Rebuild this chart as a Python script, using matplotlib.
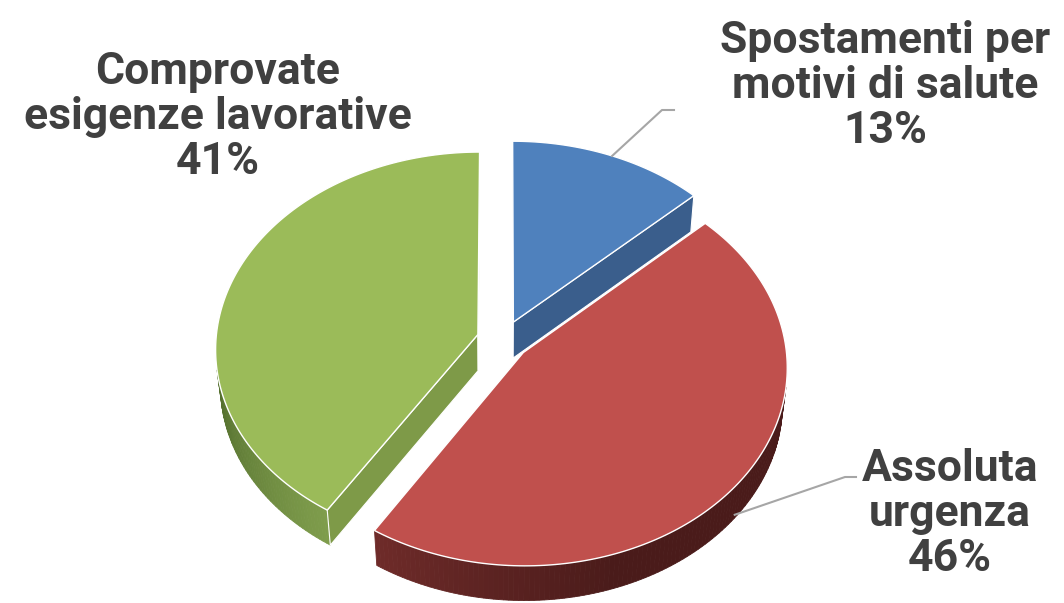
import numpy as np
import matplotlib.pyplot as plt
from matplotlib.patches import Polygon
from matplotlib.colors import to_rgb

# dati
labels = ['Spostamenti per\nmotivi di salute', 'Assoluta\nurgenza', 'Comprovate\nesigenze lavorative']
values = [13, 46, 41]

top_colors = ['#4F81BD', '#C0504D', '#9BBB59']
cut_colors = ['#3A5E8C', '#5C2120', '#7E9A48']
wall_light = ['#3F679A', '#6E2B29', '#7F9D4C']
wall_dark = ['#2E4A70', '#4A1B1A', '#55702F']

# vista prospettica della torta 3D
ELEV = np.radians(48.5)
DIST = 9.3
SCALE = 262 * DIST
CX, CY = 503, 340
THICK = 0.21
EXPLODE = 0.1
SE, CE = np.sin(ELEV), np.cos(ELEV)
CAM = np.array([0.0, -DIST * CE, DIST * SE])


def project(x, y, z):
    depth = DIST + y * CE - z * SE
    return CX + SCALE * x / depth, CY - SCALE * (y * SE + z * CE) / depth


def mix(c1, c2, t):
    a, b = np.array(to_rgb(c1)), np.array(to_rgb(c2))
    return tuple(a + (b - a) * t)


def faces_visible(p, n):
    return np.dot(CAM - p, n) > 0


fig = plt.figure(figsize=(10.64, 6.03), dpi=100)
ax = fig.add_axes([0, 0, 1, 1])
ax.set_xlim(0, 1064)
ax.set_ylim(603, 0)
ax.axis('off')

fracs = np.array(values) / np.sum(values)
bounds = np.concatenate([[0], np.cumsum(fracs) * 360])

slices = []
for i in range(len(values)):
    a0, a1 = bounds[i], bounds[i + 1]
    mid = np.radians((a0 + a1) / 2)
    off = EXPLODE * np.array([np.sin(mid), np.cos(mid)])
    slices.append((i, a0, a1, off))

# disegna prima le fette lontane
slices.sort(key=lambda s: -s[3][1])

for i, a0, a1, off in slices:
    th = np.radians(np.linspace(a0, a1, 160))
    rx = off[0] + np.sin(th)
    ry = off[1] + np.cos(th)

    # parete esterna
    vis = []
    for k in range(len(th) - 1):
        tm = (th[k] + th[k + 1]) / 2
        n = np.array([np.sin(tm), np.cos(tm), 0])
        p = np.array([off[0] + n[0], off[1] + n[1], -THICK / 2])
        if faces_visible(p, n):
            vis.append(k)
    if vis:
        kmin, kmax = min(vis), max(vis)
        for k in vis:
            xs = [rx[k], rx[k + 1], rx[k + 1], rx[k]]
            ys = [ry[k], ry[k + 1], ry[k + 1], ry[k]]
            zs = [0, 0, -THICK, -THICK]
            px, py = project(np.array(xs), np.array(ys), np.array(zs))
            # sfumatura da sinistra (chiara) a destra (scura)
            t = (k - kmin) / max(kmax - kmin, 1)
            if i == 1:
                t = 1 - t
                t = min(t * 2.2, 1)
            col = mix(wall_light[i], wall_dark[i], t)
            ax.add_patch(Polygon(np.c_[px, py], closed=True, facecolor=col,
                                 edgecolor=col, lw=0.6, zorder=2))

    # facce di taglio
    for ang, sgn in ((a0, -1), (a1, 1)):
        t = np.radians(ang)
        nang = t + sgn * np.pi / 2
        n = np.array([np.sin(nang), np.cos(nang), 0])
        p = np.array([off[0] + 0.5 * np.sin(t), off[1] + 0.5 * np.cos(t), -THICK / 2])
        if faces_visible(p, n):
            xs = np.array([off[0], off[0] + np.sin(t), off[0] + np.sin(t), off[0]])
            ys = np.array([off[1], off[1] + np.cos(t), off[1] + np.cos(t), off[1]])
            zs = np.array([0, 0, -THICK, -THICK])
            px, py = project(xs, ys, zs)
            ax.add_patch(Polygon(np.c_[px, py], closed=True, facecolor=cut_colors[i],
                                 edgecolor='white', lw=0.8, zorder=2))

    # faccia superiore
    xs = np.concatenate([[off[0]], rx])
    ys = np.concatenate([[off[1]], ry])
    px, py = project(xs, ys, np.zeros_like(xs))
    ax.add_patch(Polygon(np.c_[px, py], closed=True, facecolor=top_colors[i],
                         edgecolor='white', lw=1.0, zorder=2))

# linee guida
def rim_point(i, ang, z):
    a0, a1 = bounds[i], bounds[i + 1]
    mid = np.radians((a0 + a1) / 2)
    t = np.radians(ang)
    return project(EXPLODE * np.sin(mid) + np.sin(t), EXPLODE * np.cos(mid) + np.cos(t), z)

x0, y0 = rim_point(0, 24, 0)
ax.plot([x0, 662, 674], [y0, 110, 110], color='#A6A6A6', lw=1.5, zorder=3)
x0, y0 = rim_point(1, 129, -THICK * 0.9)
ax.plot([x0, 845, 856], [y0, 477, 477], color='#A6A6A6', lw=1.5, zorder=3)

font = dict(family='Roboto', weight='bold', color='#404040', fontsize=32,
            ha='center', va='center', linespacing=1.1, zorder=4)
ax.text(885, 86, labels[0] + '\n13%', **font)
ax.text(950, 514, labels[1] + '\n46%', **font)
ax.text(218, 117, labels[2] + '\n41%', **font)

fig.savefig('out.png', dpi=100)
